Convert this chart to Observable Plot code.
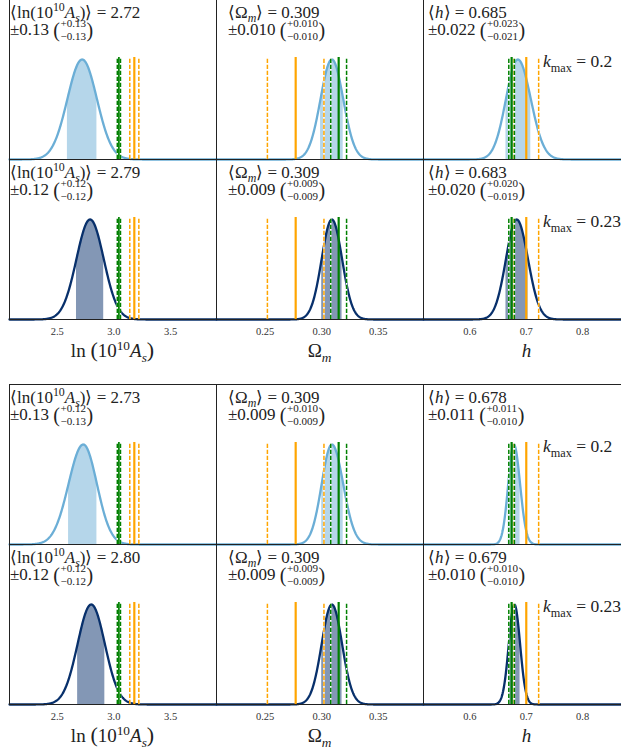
<!DOCTYPE html>
<html>
<head>
<meta charset="utf-8">
<script src="https://cdn.jsdelivr.net/npm/d3@7"></script>
<script src="https://cdn.jsdelivr.net/npm/@observablehq/plot@0.6"></script>
<style>
  html, body { margin: 0; padding: 0; background: #fff; }
  #fig { position: relative; width: 621px; height: 752px; overflow: hidden; background: #fff; }
  #fig svg { position: absolute; }
  #fig svg text, #fig svg tspan { font-family: "Liberation Serif", "Times New Roman", serif !important; }
</style>
</head>
<body>
<div id="fig"></div>
<script>
// ---- parameters (columns) -------------------------------------------------
const paramNames = ["lnAs", "Om", "h"];
const xDomains = [[2.079, 3.905], [0.207, 0.390], [0.5176, 0.885]];
const tickValues = [[2.5, 3.0, 3.5], [0.25, 0.30, 0.35], [0.6, 0.7, 0.8]];
const tickFormats = [".1f", ".2f", ".1f"];
const statDigits = [2, 3, 3];

// ---- rows: scale cut of the fit --------------------------------------------
const kmaxRows = [0.2, 0.23];
const rowColours = ["#6baed6", "#08306b"];

// ---- posterior summaries, upper block (row-major: kmax 0.2 then 0.23) -------
const upperMean  = [2.72, 0.309, 0.685, 2.79, 0.309, 0.683];
const upperSigma = [0.13, 0.010, 0.022, 0.12, 0.009, 0.020];
const upperPlus  = [0.13, 0.010, 0.023, 0.12, 0.009, 0.020];
const upperMinus = [0.13, 0.010, 0.021, 0.12, 0.009, 0.019];

// ---- posterior summaries, lower block ---------------------------------------
const lowerMean  = [2.73, 0.309, 0.678, 2.80, 0.309, 0.679];
const lowerSigma = [0.13, 0.009, 0.011, 0.12, 0.009, 0.010];
const lowerPlus  = [0.12, 0.010, 0.011, 0.12, 0.009, 0.010];
const lowerMinus = [0.13, 0.009, 0.010, 0.12, 0.009, 0.010];

// ---- external reference constraints (centre and 1-sigma half width) ---------
const greenCentre = [3.044, 0.315, 0.674];
const greenHalfWidth = [0.014, 0.007, 0.005];
const orangeCentre = [3.18, 0.277, 0.700];
const orangeHalfWidth = [0.04, 0.025, 0.022];

const blocks = [
  {mean: upperMean, sd: upperSigma, plus: upperPlus, minus: upperMinus},
  {mean: lowerMean, sd: lowerSigma, plus: lowerPlus, minus: lowerMinus}
];

// ---- layout -----------------------------------------------------------------
const colLeft = [9, 216, 423];
const colW = 207;
const rowH = 160;
const blockTop = [-1, 384];
const pad = 1;
const axisSpace = 50;
const statOffset = [1, 12, 5];
const serif = "Liberation Serif, Times New Roman, serif";
const textColour = "#222";

const fig = document.getElementById("fig");

// rich text helper: parts with optional italic / superscript / subscript
function rich(g, x, y, parts, size, anchor) {
  const t = g.append("text")
    .attr("x", x).attr("y", y)
    .attr("font-size", size)
    .attr("fill", textColour)
    .attr("text-anchor", anchor || "start");
  let cur = 0;
  for (const p of parts) {
    const off = p.sup ? -0.38 * size : p.sub ? 0.26 * size : 0;
    const s = t.append("tspan").attr("dy", off - cur).text(p.t);
    if (p.sup || p.sub) s.attr("font-size", size * 0.7);
    if (p.big) s.attr("font-size", p.big);
    if (p.it) s.attr("font-style", "italic");
    cur = off;
  }
  return t;
}

function statLine1(col, meanText) {
  if (col === 0) return [{t: "⟨ln(10"}, {t: "10", sup: true}, {t: "A", it: true}, {t: "s", it: true, sub: true}, {t: ")⟩ = " + meanText}];
  if (col === 1) return [{t: "⟨Ω"}, {t: "m", it: true, sub: true}, {t: "⟩ = " + meanText}];
  return [{t: "⟨"}, {t: "h", it: true}, {t: "⟩ = " + meanText}];
}

function axisLabel(col) {
  if (col === 0) return [{t: "ln "}, {t: "(", big: 22}, {t: "10"}, {t: "10", sup: true}, {t: "A", it: true}, {t: "s", it: true, sub: true}, {t: ")", big: 22}];
  if (col === 1) return [{t: "Ω"}, {t: "m", it: true, sub: true}];
  return [{t: "h", it: true}];
}

function panel(block, row, col) {
  const stats = blocks[block];
  const i = row * 3 + col;
  const mu = stats.mean[i], lo = stats.minus[i], hi = stats.plus[i];
  const [x0, x1] = xDomains[col];
  const colour = rowColours[row];
  const bottom = row === 1;

  // posterior density (split normal from the quoted mean and errors), peak = 1
  const dens = x => Math.exp(-0.5 * ((x - mu) / (x < mu ? lo : hi)) ** 2);
  const grid = d3.range(501).map(k => x0 + (x1 - x0) * k / 500);
  const curve = grid.map(x => ({x, y: dens(x)}));
  const bandX = [mu - lo, ...grid.filter(x => x > mu - lo && x < mu + hi), mu + hi];
  const band = bandX.map(x => ({x, y: dens(x)}));

  const ruleMarks = [];
  const addRef = (centre, half, colourName) => {
    for (const x of [centre - half, centre + half]) {
      ruleMarks.push(Plot.ruleX([x], {y1: 0, y2: 1.02, stroke: "white", strokeWidth: 1.5}));
      ruleMarks.push(Plot.ruleX([x], {y1: 0, y2: 1.02, stroke: colourName, strokeWidth: 1.5, strokeDasharray: "4.2,1.8"}));
    }
  };
  // orange constraint first, green on top; solid centre line under its dashed bounds
  ruleMarks.push(Plot.ruleX([orangeCentre[col]], {y1: 0, y2: 1.02, stroke: "orange", strokeWidth: 2.2}));
  addRef(orangeCentre[col], orangeHalfWidth[col], "orange");
  ruleMarks.push(Plot.ruleX([greenCentre[col]], {y1: 0, y2: 1.02, stroke: "green", strokeWidth: 2.2}));
  addRef(greenCentre[col], greenHalfWidth[col], "green");

  const svg = Plot.plot({
    width: colW + 2 * pad,
    height: rowH + 2 * pad + (bottom ? axisSpace : 0),
    marginLeft: pad,
    marginRight: pad,
    marginTop: pad,
    marginBottom: pad + (bottom ? axisSpace : 0),
    x: {
      domain: xDomains[col],
      ticks: tickValues[col],
      tickFormat: d3.format(tickFormats[col]),
      tickSize: 0,
      tickPadding: 8,
      label: null,
      axis: bottom ? "bottom" : null
    },
    y: {domain: [0, 1.6], axis: null},
    style: {background: "none", overflow: "visible", fontFamily: serif, fontSize: "10.5px", color: "#333"},
    marks: [
      Plot.areaY(band, {x: "x", y: "y", fill: colour, fillOpacity: 0.5}),
      Plot.lineY(curve, {x: "x", y: "y", stroke: colour, strokeWidth: 2.3}),
      ...ruleMarks,
      Plot.frame({stroke: "#222", strokeWidth: 1})
    ]
  });

  svg.style.left = (colLeft[col] - pad) + "px";
  svg.style.top = (blockTop[block] + row * rowH - pad) + "px";
  fig.appendChild(svg);

  const g = d3.select(svg).append("g");
  const left = pad + statOffset[col];
  const top = pad;

  // summary statistics
  const fmt = d3.format("." + statDigits[col] + "f");
  rich(g, left, top + 18.5, statLine1(col, fmt(mu)), 17);
  const a = rich(g, left, top + 36, [{t: "±" + fmt(stats.sd[i]) + " "}], 17);
  let x = left + a.node().getComputedTextLength();
  const p1 = rich(g, x, top + 37.5, [{t: "("}], 20);
  x += p1.node().getComputedTextLength() + 0.5;
  const sup = rich(g, x, top + 28.3, [{t: "+" + fmt(hi)}], 11);
  const sub = rich(g, x, top + 40.5, [{t: "−" + fmt(lo)}], 11);
  x += Math.max(sup.node().getComputedTextLength(), sub.node().getComputedTextLength()) + 0.5;
  rich(g, x, top + 37.5, [{t: ")"}], 20);

  // scale-cut tag on the right-hand column
  if (col === 2) {
    rich(g, pad + 120, top + 68, [{t: "k", it: true}, {t: "max", sub: true}, {t: " = " + kmaxRows[row]}], 17.5);
  }

  // axis label under the bottom row
  if (bottom) {
    rich(g, pad + colW / 2, top + rowH + 38, axisLabel(col), 19, "middle");
  }
}

for (let b = 0; b < 2; b++) {
  for (let r = 0; r < 2; r++) {
    for (let c = 0; c < 3; c++) panel(b, r, c);
  }
}
</script>
</body>
</html>
